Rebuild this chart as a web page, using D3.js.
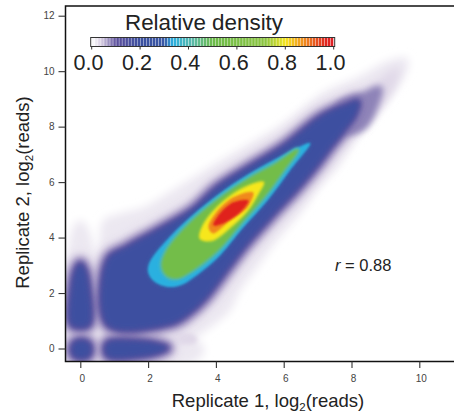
<!DOCTYPE html>
<html>
<head>
<meta charset="utf-8">
<script src="https://cdn.jsdelivr.net/npm/d3@7"></script>
<style>
  html, body { margin: 0; padding: 0; background: #fff; }
  svg { display: block; }
  text { font-family: "Liberation Sans", Arial, sans-serif; }
</style>
</head>
<body>
<div id="chart"></div>
<script>
// tick labels
const xTicks = [0, 2, 4, 6, 8, 10];
const yTicks = [0, 2, 4, 6, 8, 10, 12];
const legendTicks = [0, 0.2, 0.4, 0.6, 0.8, 1];

// density colour ramp
const rampValues = [0, 0.04, 0.1, 0.2, 0.3, 0.335, 0.42, 0.5, 0.72, 0.8, 0.88, 0.97, 1];
const rampColors = ["#ffffff", "#d5cbe0", "#5c4f9c", "#3c50a0", "#3a58a6", "#2bb0e0", "#5bb9a5", "#6cbb4a", "#8cc540", "#f6e71e", "#f0891f", "#e0241f", "#dd1f26"];

// density outlines, in log2(reads) units [rep1, rep2]
const paleLobe = [[.56,.65],[.56,3.54],[.68,4.62],[1.18,4.87],[1.86,5.09],[2.86,5.81],[4.04,6.71],[5.01,7.40],[5.99,8.12],[7.17,9.24],[8.17,9.78],[9.14,10.40],[9.65,10.47],[9.65,10.04],[9.35,9.42],[8.85,8.70],[8.17,7.62],[7.58,6.53],[7.08,5.88],[6.49,4.87],[5.81,3.90],[5.22,2.92],[4.72,2.09],[4.42,1.37],[3.83,.76],[3.33,.40],[2.06,.54],[.88,.54]];
const paleColumn = [[-.38,-.5],[-.38,3.3],[-.2,4.4],[0,4.62],[.2,4.4],[.44,3.3],[.44,-.5]];
const paleRow = [[.3,.62],[3.33,.4],[3.66,-.07],[3.33,-.5],[.3,-.5]];
const paleCross = [[-.42,-.5],[-.42,.75],[.42,.75],[.42,2.8],[.72,2.8],[.72,.7],[2.2,.72],[3.4,.45],[3.4,.2],[.6,.2],[.6,-.5]];
const paleTip = [[7.9,9.05],[8.7,9.6],[9.4,10.15],[9.3,9.5],[8.85,8.6],[8.3,8.0]];
const purpleTip = [[7.6,8.75],[8.3,9.15],[8.85,9.4],[8.75,8.8],[8.35,7.95],[7.8,7.8]];
const blueLobe = [[.82,.86],[.82,3.2],[1.39,3.65],[2.36,4.3],[3.33,5.0],[4.04,5.8],[5.01,6.55],[5.99,7.28],[7.1,8.35],[7.8,8.75],[8.2,8.9],[8.1,8.4],[7.8,7.9],[7.4,7.3],[7.0,6.65],[6.38,5.75],[5.65,4.8],[4.85,3.7],[4.35,2.9],[3.68,1.82],[3.18,1.26],[2.7,.92]];
const blueColumn = [[-.24,.86],[-.24,2.2],[-.12,2.85],[0,3.05],[.12,2.85],[.24,2.2],[.24,.86]];
const blueSpot = [[.03,.28],[.24,.18],[.3,-.02],[.24,-.25],[.03,-.33],[-.18,-.25],[-.24,-.02],[-.18,.18]];
const blueRow = [[.84,.22],[1.8,.24],[2.3,.14],[2.55,.02],[2.3,-.14],[1.8,-.26],[.84,-.28],[.74,0]];
const cyanLobe = [[6.78,7.40],[5.99,6.97],[5.01,6.32],[4.04,5.52],[3.04,4.51],[2.36,3.65],[2.04,3.10],[2.0,2.75],[2.18,2.42],[2.6,2.22],[3.0,2.3],[3.45,2.65],[4.04,3.25],[4.81,4.37],[5.52,5.34],[6.19,6.43]];
const greenLobe = [[6.40,7.15],[5.81,6.68],[5.01,6.14],[4.04,5.34],[3.24,4.51],[2.57,3.54],[2.42,3.00],[2.55,2.65],[2.85,2.55],[3.2,2.75],[4.04,3.54],[4.72,4.51],[5.40,5.45],[5.99,6.43]];
const yellowLobe = [[5.40,5.99],[4.81,5.78],[4.04,5.09],[3.60,4.37],[3.54,3.97],[3.89,3.90],[4.42,4.37],[4.93,4.98],[5.25,5.60]];
const orangeLobe = [[5.10,5.63],[4.51,5.45],[3.98,4.87],[3.78,4.37],[3.92,4.15],[4.42,4.62],[4.93,5.09]];
const redLobe = [[4.96,5.34],[4.51,5.27],[4.07,4.80],[3.92,4.44],[4.22,4.51],[4.72,4.91]];

const width = 454, height = 420;

const svg = d3.select("#chart").append("svg")
  .attr("width", width)
  .attr("height", height);

const x = d3.scaleLinear().domain([0, 10]).range([80.3, 419.3]);
const y = d3.scaleLinear().domain([0, 12]).range([348.5, 15.7]);
const color = d3.scaleLinear().domain(rampValues).range(rampColors);

const frameLeft = 65.5, frameTop = 6, frameBottom = 361.5;

const defs = svg.append("defs");
defs.append("clipPath").attr("id", "plotClip")
  .append("rect")
    .attr("x", frameLeft)
    .attr("y", frameTop)
    .attr("width", width - frameLeft)
    .attr("height", frameBottom - frameTop);

[0.8, 1, 1.5, 2, 2.5, 3, 4].forEach(s => {
  defs.append("filter")
    .attr("id", "blur" + String(s).replace(".", "_"))
    .attr("filterUnits", "userSpaceOnUse")
    .attr("x", 0).attr("y", 0).attr("width", width).attr("height", height)
    .append("feGaussianBlur").attr("stdDeviation", s);
});

const line = d3.line()
  .x(d => x(d[0]))
  .y(d => y(d[1]))
  .curve(d3.curveCatmullRomClosed.alpha(0.5));

const blues = [blueLobe, blueColumn, blueSpot, blueRow];

// painted back to front: level picks the fill, rim widens the shape by a stroke
const layers = [
  { shapes: [paleLobe, paleColumn, paleRow], level: 0.018, blur: 4 },
  { shapes: [paleCross], level: 0.03, blur: 2 },
  { shapes: [paleTip], level: 0.03, blur: 4 },
  { shapes: blues, level: 0.025, rim: 26, blur: 4 },
  { shapes: blues, level: 0.05, rim: 18, blur: 3 },
  { shapes: [purpleTip], level: 0.075, rim: 4, blur: 3 },
  { shapes: blues, level: 0.08, rim: 11, blur: 3 },
  { shapes: blues, level: 0.11, rim: 5, blur: 2.5 },
  { shapes: blues, level: 0.2, blur: 2.5 },
  { shapes: [cyanLobe], level: 0.27, rim: 4, blur: 1.5 },
  { shapes: [cyanLobe], level: 0.335, blur: 1 },
  { shapes: [greenLobe], level: 0.39, rim: 6, blur: 1.5 },
  { shapes: [greenLobe], level: 0.44, rim: 3, blur: 1 },
  { shapes: [greenLobe], level: 0.55, blur: 1 },
  { shapes: [yellowLobe], level: 0.74, rim: 3, blur: 1 },
  { shapes: [yellowLobe], level: 0.8, blur: 0.8 },
  { shapes: [orangeLobe], level: 0.88, blur: 0.8 },
  { shapes: [redLobe], level: 0.97, blur: 0.8 }
];

const density = svg.append("g").attr("clip-path", "url(#plotClip)");

layers.forEach(layer => {
  density.append("g")
    .attr("filter", `url(#blur${String(layer.blur).replace(".", "_")})`)
    .selectAll("path")
    .data(layer.shapes)
    .join("path")
      .attr("d", line)
      .attr("fill", color(layer.level))
      .attr("stroke", layer.rim ? color(layer.level) : "none")
      .attr("stroke-width", layer.rim || 0)
      .attr("stroke-linejoin", "round");
});

// Frame
const framePath = `M${width},${frameTop}H${frameLeft}V${frameBottom}H${width}`;
svg.append("path")
  .attr("d", framePath)
  .attr("fill", "none")
  .attr("stroke", "#111")
  .attr("stroke-width", 1.5);

// Axes
const xAxis = svg.append("g")
  .attr("transform", `translate(0,${frameBottom})`)
  .call(d3.axisBottom(x).tickValues(xTicks).tickFormat(d3.format("d")).tickSize(6.5).tickPadding(7));
const yAxis = svg.append("g")
  .attr("transform", `translate(${frameLeft},0)`)
  .call(d3.axisLeft(y).tickValues(yTicks).tickFormat(d3.format("d")).tickSize(7).tickPadding(4));

[xAxis, yAxis].forEach(a => {
  a.select(".domain").remove();
  a.selectAll(".tick line").attr("stroke", "#333").attr("stroke-width", 1.1);
  a.selectAll(".tick text")
    .attr("fill", "#444")
    .style("font-size", "10px")
    .style("font-family", '"Liberation Sans", Arial, sans-serif');
});
xAxis.selectAll(".tick text").attr("dx", 1.5);

// Axis titles
function axisTitle(g, number) {
  const t = g.append("text")
    .attr("text-anchor", "middle")
    .attr("fill", "#222")
    .style("font-size", "18.5px");
  t.append("tspan").text(`Replicate ${number}, log`);
  t.append("tspan").attr("dy", 4).style("font-size", "11.5px").text("2");
  t.append("tspan").attr("dy", -4).text("(reads)");
}
axisTitle(svg.append("g").attr("transform", "translate(268,407)"), 1);
axisTitle(svg.append("g").attr("transform", "translate(29,192.5) rotate(-90)"), 2);

// r label
const rLabel = svg.append("text")
  .attr("x", 335)
  .attr("y", 270.5)
  .attr("fill", "#222")
  .style("font-size", "16.5px");
rLabel.append("tspan").style("font-style", "italic").text("r");
rLabel.append("tspan").text(" = 0.88");

// Legend
const legendX = d3.scaleLinear().domain([0, 1]).range([91.7, 333.7]);
const legendTop = 37.5, legendBottom = 46.5;
const legendBands = d3.scaleBand()
  .domain(d3.range(80))
  .range([legendX(0), legendX(1)])
  .padding(0.14);

const legend = svg.append("g");
legend.selectAll("rect.band")
  .data(legendBands.domain())
  .join("rect")
    .attr("class", "band")
    .attr("x", d => legendBands(d))
    .attr("y", legendTop)
    .attr("width", legendBands.bandwidth())
    .attr("height", legendBottom - legendTop)
    .attr("fill", d => color((d + 0.5) / 80));

legend.append("rect")
  .attr("x", legendX(0) - 1)
  .attr("y", legendTop)
  .attr("width", legendX(1) - legendX(0) + 2)
  .attr("height", legendBottom - legendTop)
  .attr("fill", "none")
  .attr("stroke", "#333")
  .attr("stroke-width", 1);

legend.selectAll("line.tick")
  .data(legendTicks)
  .join("line")
    .attr("class", "tick")
    .attr("x1", d => legendX(d))
    .attr("x2", d => legendX(d))
    .attr("y1", legendBottom)
    .attr("y2", legendBottom + 3)
    .attr("stroke", "#333");

legend.selectAll("text.tickLabel")
  .data(legendTicks)
  .join("text")
    .attr("class", "tickLabel")
    .attr("x", d => legendX(d) - 3.2)
    .attr("y", 70)
    .attr("text-anchor", "middle")
    .attr("fill", "#222")
    .style("font-size", "21.5px")
    .text(d3.format(".1f"));

legend.append("text")
  .attr("x", 204)
  .attr("y", 30)
  .attr("text-anchor", "middle")
  .attr("fill", "#222")
  .style("font-size", "22.4px")
  .text("Relative density");
</script>
</body>
</html>
